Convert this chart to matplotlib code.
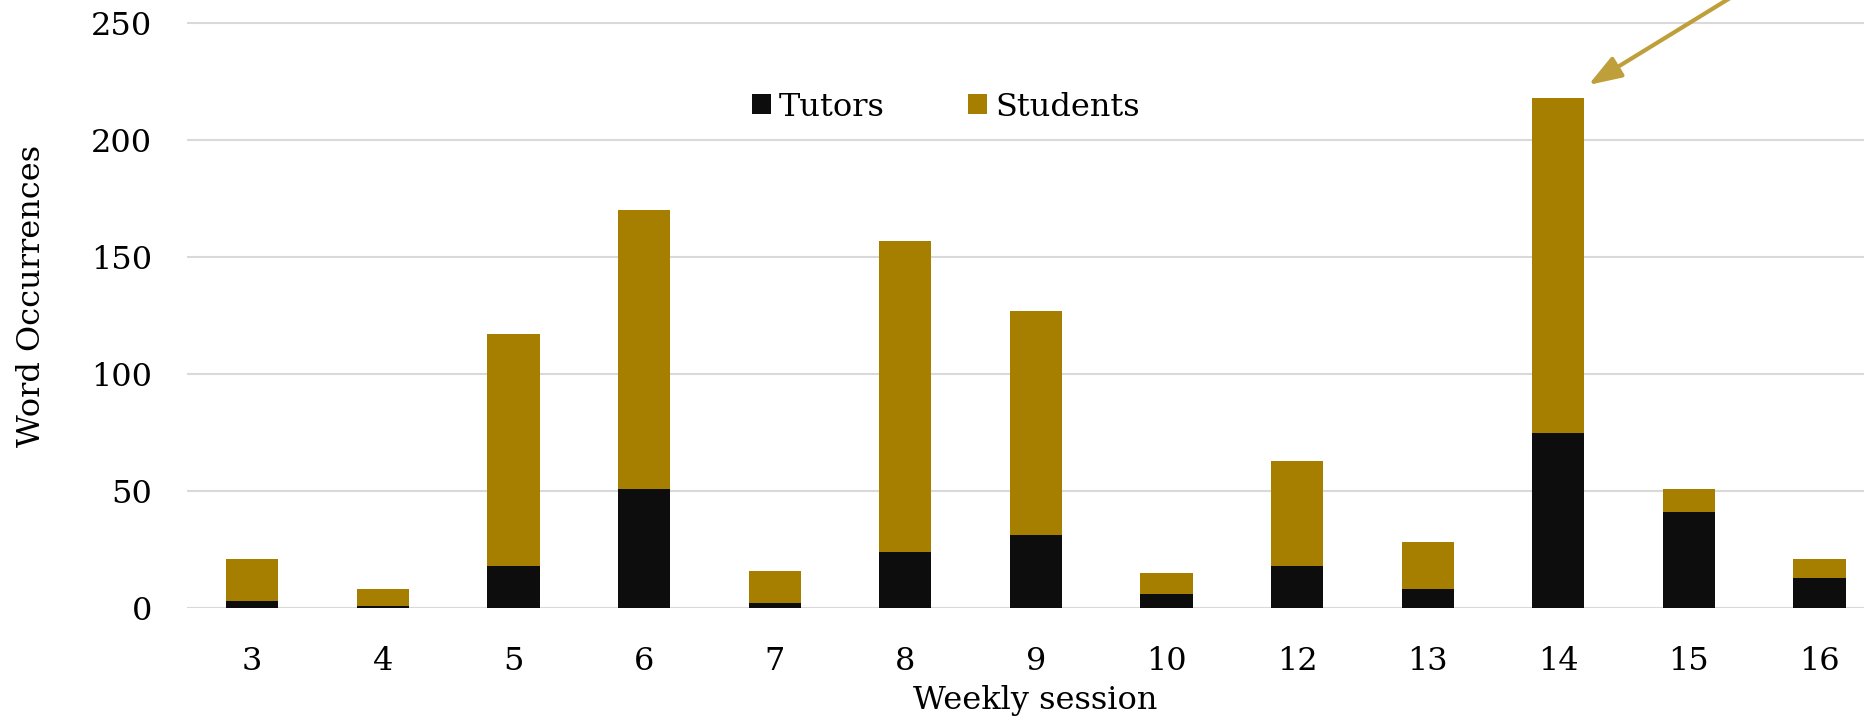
import matplotlib
matplotlib.use('Agg')
import matplotlib.pyplot as plt
import numpy as np

# данные по неделям
sessions = ['3', '4', '5', '6', '7', '8', '9', '10', '12', '13', '14', '15', '16']
tutors = [3, 1, 18, 51, 2, 24, 31, 6, 18, 8, 75, 41, 13]
totals = [21, 8, 117, 170, 16, 157, 127, 15, 63, 28, 218, 51, 21]
students = [t - u for t, u in zip(totals, tutors)]
yticks = [0, 50, 100, 150, 200, 250]

W, H = 1865, 721
plt.rcParams['font.family'] = ['DejaVu Serif']

fig = plt.figure(figsize=(W / 100, H / 100), dpi=100)

# геометрия в пикселях
px_unit = 585 / 250
y0 = 608
ymax = 255
x_left = 187
step = 130.6
n = len(sessions)
x_right = x_left + n * step
top_px = y0 - ymax * px_unit
ax = fig.add_axes([x_left / W, (H - y0) / H, (x_right - x_left) / W, (y0 - top_px) / H])

x = np.arange(n)
black = '#0D0D0D'
gold = '#A67F00'
ax.bar(x, tutors, width=0.4, color=black, label='Tutors', zorder=3)
ax.bar(x, students, width=0.4, bottom=tutors, color=gold, label='Students', zorder=3)

ax.set_xlim(-0.5, n - 0.5)
ax.set_ylim(0, ymax)
ax.set_yticks(yticks)
ax.set_xticks(x)
ax.set_xticklabels(sessions)
ax.grid(axis='y', color='#D9D9D9', linewidth=1.5, zorder=0)
ax.set_axisbelow(True)
for s in ax.spines.values():
    s.set_visible(False)
ax.tick_params(axis='both', length=0, labelsize=23, colors='black')
ax.tick_params(axis='y', pad=25)
ax.tick_params(axis='x', pad=27)

fig.text(32 / W, 1 - 296 / H, 'Word Occurrences', rotation=90, ha='center', va='center', fontsize=23)
fig.text(1035 / W, 1 - 700 / H, 'Weekly session', ha='center', va='center', fontsize=23)

ax.legend(loc='center', bbox_to_anchor=(946 / W, 1 - 107 / H), bbox_transform=fig.transFigure,
          ncol=2, frameon=False, fontsize=23, handlelength=0.6, handleheight=0.6,
          handletextpad=0.25, columnspacing=2.6)

# стрелка к неделе 14
ax.annotate('', xy=(10.23, 223.5), xytext=(11.85, 279), xycoords='data', textcoords='data',
            annotation_clip=False,
            arrowprops=dict(arrowstyle='-|>,head_length=1.0,head_width=0.35', mutation_scale=20,
                            color='#BF9F3A', linewidth=3, shrinkA=0, shrinkB=0))

plt.savefig('out.png', dpi=100)
